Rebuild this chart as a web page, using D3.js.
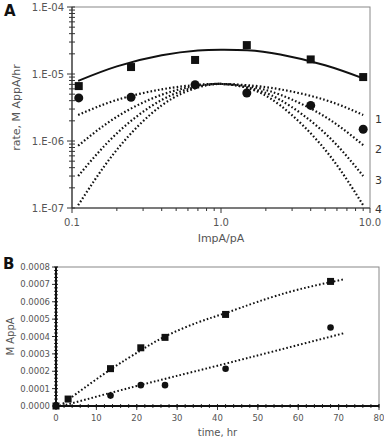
<!DOCTYPE html>
<html>
<head>
<meta charset="utf-8">
<script src="https://cdn.jsdelivr.net/npm/d3@7"></script>
<style>
  body { margin: 0; background: #fff; }
  text { font-family: "DejaVu Sans", sans-serif; }
</style>
</head>
<body>
<svg id="chart" width="384" height="440"></svg>
<script>
// panel A: rate vs ImpA/pA (log-log)
var ratioSquares = [0.111, 0.249, 0.67, 1.49, 4.0, 9.0];
var rateSquares = [6.6e-6, 1.27e-5, 1.62e-5, 2.7e-5, 1.65e-5, 9.0e-6];
var ratioCircles = [0.111, 0.249, 0.67, 1.49, 4.0, 9.0];
var rateCircles = [4.4e-6, 4.5e-6, 6.9e-6, 5.2e-6, 3.4e-6, 1.5e-6];

var curveX = [0.11, 0.2, 0.4, 0.7, 1.0, 1.5, 2.5, 5.0, 9.0];
var solidFit = [7.9e-6, 1.3e-5, 1.9e-5, 2.24e-5, 2.3e-5, 2.26e-5, 1.95e-5, 1.35e-5, 8.6e-6];
var model1 = [2.45e-6, 4.1e-6, 5.9e-6, 6.9e-6, 7.1e-6, 6.8e-6, 5.9e-6, 4.1e-6, 2.45e-6];
var model2 = [8.5e-7, 2.3e-6, 4.9e-6, 6.7e-6, 7.1e-6, 6.6e-6, 4.9e-6, 2.3e-6, 8.7e-7];
var model3 = [3.0e-7, 1.3e-6, 4.1e-6, 6.5e-6, 7.1e-6, 6.3e-6, 4.1e-6, 1.3e-6, 3.0e-7];
var model4 = [1.1e-7, 7.4e-7, 3.4e-6, 6.3e-6, 7.1e-6, 6.2e-6, 3.4e-6, 7.4e-7, 1.1e-7];
var modelLabels = ["1", "2", "3", "4"];
var yTicksA = [1e-7, 1e-6, 1e-5, 1e-4];
var yTickLabelsA = ["1.E-07", "1.E-06", "1.E-05", "1.E-04"];
var xTicksA = [0.1, 1, 10];
var xTickLabelsA = ["0.1", "1.0", "10.0"];

// panel B: M AppA vs time
var timeSquares = [0, 3, 13.5, 21, 27, 42, 68];
var appaSquares = [0, 0.00004, 0.000215, 0.000335, 0.000395, 0.000527, 0.000717];
var timeCircles = [0, 13.5, 21, 27, 42, 68];
var appaCircles = [0, 0.00006, 0.00012, 0.00012, 0.000214, 0.000452];
var fitUpperT = [1, 5, 13.5, 21, 27, 35, 42, 50, 60, 71.5];
var fitUpperY = [0, 0.00007, 0.00021, 0.00032, 0.0004, 0.00048, 0.000535, 0.0006, 0.00067, 0.00073];
var fitLowerT = [1.5, 20, 40, 71.5];
var fitLowerY = [0, 0.000115, 0.000232, 0.00042];
var yTicksB = [0, 0.0001, 0.0002, 0.0003, 0.0004, 0.0005, 0.0006, 0.0007, 0.0008];
var xTicksB = [0, 10, 20, 30, 40, 50, 60, 70, 80];

var svg = d3.select("#chart");
var grey = "#555";

// ---------- panel A ----------
var marginA = { left: 72, right: 370, top: 7, bottom: 208 };
var xA = d3.scaleLog().domain([0.1, 10]).range([marginA.left, marginA.right]);
var yA = d3.scaleLog().domain([1e-7, 1e-4]).range([marginA.bottom, marginA.top]);

var gA = svg.append("g");

// frame
gA.append("rect")
	.attr("x", marginA.left).attr("y", marginA.top)
	.attr("width", marginA.right - marginA.left)
	.attr("height", marginA.bottom - marginA.top)
	.attr("fill", "none").attr("stroke", "#888").attr("stroke-width", 1);

// y minor ticks
var minorY = [];
yTicksA.slice(0, 3).forEach(function (d) {
	for (var k = 2; k <= 9; k++) minorY.push(d * k);
});
gA.selectAll(".ymin").data(minorY).enter().append("line")
	.attr("x1", marginA.left - 3).attr("x2", marginA.left + 3)
	.attr("y1", function (d) { return yA(d); })
	.attr("y2", function (d) { return yA(d); })
	.attr("stroke", "#333");
gA.selectAll(".ymaj").data(yTicksA).enter().append("line")
	.attr("x1", marginA.left - 5).attr("x2", marginA.left + 3)
	.attr("y1", function (d) { return yA(d); })
	.attr("y2", function (d) { return yA(d); })
	.attr("stroke", "#333");
gA.selectAll(".ylab").data(yTicksA).enter().append("text")
	.attr("x", marginA.left - 8)
	.attr("y", function (d) { return yA(d) + 3.5; })
	.attr("text-anchor", "end")
	.attr("font-size", 10).attr("fill", grey)
	.text(function (d, i) { return yTickLabelsA[i]; });

// x minor ticks
var minorX = [];
[0.1, 1].forEach(function (d) {
	for (var k = 2; k <= 9; k++) minorX.push(d * k);
});
gA.selectAll(".xmin").data(minorX).enter().append("line")
	.attr("x1", function (d) { return xA(d); })
	.attr("x2", function (d) { return xA(d); })
	.attr("y1", marginA.bottom).attr("y2", marginA.bottom + 3)
	.attr("stroke", "#333");
gA.selectAll(".xmaj").data(xTicksA).enter().append("line")
	.attr("x1", function (d) { return xA(d); })
	.attr("x2", function (d) { return xA(d); })
	.attr("y1", marginA.bottom).attr("y2", marginA.bottom + 5)
	.attr("stroke", "#333");
gA.selectAll(".xlab").data(xTicksA).enter().append("text")
	.attr("x", function (d) { return xA(d); })
	.attr("y", marginA.bottom + 18)
	.attr("text-anchor", "middle")
	.attr("font-size", 10).attr("fill", grey)
	.text(function (d, i) { return xTickLabelsA[i]; });

// axis lines
gA.append("line")
	.attr("x1", marginA.left).attr("x2", marginA.left)
	.attr("y1", marginA.top).attr("y2", marginA.bottom)
	.attr("stroke", "#333").attr("stroke-width", 1.2);
gA.append("line")
	.attr("x1", marginA.left).attr("x2", marginA.right)
	.attr("y1", marginA.bottom).attr("y2", marginA.bottom)
	.attr("stroke", "#333").attr("stroke-width", 1.2);

gA.append("text")
	.attr("transform", "translate(20," + (marginA.top + marginA.bottom) / 2 + ") rotate(-90)")
	.attr("text-anchor", "middle")
	.attr("font-size", 11).attr("fill", grey)
	.text("rate, M AppA/hr");
gA.append("text")
	.attr("x", xA(1)).attr("y", 242)
	.attr("text-anchor", "middle")
	.attr("font-size", 11).attr("fill", grey)
	.text("ImpA/pA");

var lineA = d3.line()
	.x(function (d) { return xA(d[0]); })
	.y(function (d) { return yA(d[1]); })
	.curve(d3.curveNatural);

[model1, model2, model3, model4].forEach(function (m) {
	gA.append("path")
		.datum(d3.zip(curveX, m))
		.attr("d", lineA)
		.attr("fill", "none").attr("stroke", "#111")
		.attr("stroke-width", 2.2).attr("stroke-dasharray", "1.6,2.2");
});
gA.append("path")
	.datum(d3.zip(curveX, solidFit))
	.attr("d", lineA)
	.attr("fill", "none").attr("stroke", "#111").attr("stroke-width", 2);

gA.selectAll(".msq").data(d3.zip(ratioSquares, rateSquares)).enter().append("rect")
	.attr("x", function (d) { return xA(d[0]) - 4; })
	.attr("y", function (d) { return yA(d[1]) - 4; })
	.attr("width", 8).attr("height", 8).attr("fill", "#111");
gA.selectAll(".mci").data(d3.zip(ratioCircles, rateCircles)).enter().append("circle")
	.attr("cx", function (d) { return xA(d[0]); })
	.attr("cy", function (d) { return yA(d[1]); })
	.attr("r", 4.5).attr("fill", "#111");

var modelEnds = [model1, model2, model3, model4];
gA.selectAll(".mlab").data(modelLabels).enter().append("text")
	.attr("x", marginA.right + 5)
	.attr("y", function (d, i) { return yA(modelEnds[i][modelEnds[i].length - 1]) + 8; })
	.attr("font-size", 11).attr("fill", "#333")
	.text(function (d) { return d; });

svg.append("text").attr("x", 4).attr("y", 16)
	.attr("font-size", 15).attr("font-weight", "bold").attr("fill", "#111")
	.attr("font-family", "Liberation Sans, Arial, sans-serif")
	.text("A");

// ---------- panel B ----------
var marginB = { left: 56, right: 379, top: 267, bottom: 406 };
var xB = d3.scaleLinear().domain([0, 80]).range([marginB.left, marginB.right]);
var yB = d3.scaleLinear().domain([0, 0.0008]).range([marginB.bottom, marginB.top]);
var gB = svg.append("g");

gB.append("rect")
	.attr("x", marginB.left).attr("y", marginB.top)
	.attr("width", marginB.right - marginB.left)
	.attr("height", marginB.bottom - marginB.top)
	.attr("fill", "none").attr("stroke", "#888").attr("stroke-width", 1);

gB.selectAll(".ybmin").data(d3.range(0, 0.00080001, 0.00002)).enter().append("line")
	.attr("x1", marginB.left - 2).attr("x2", marginB.left + 2)
	.attr("y1", function (d) { return yB(d); })
	.attr("y2", function (d) { return yB(d); })
	.attr("stroke", "#333");
gB.selectAll(".ybmaj").data(yTicksB).enter().append("line")
	.attr("x1", marginB.left - 4).attr("x2", marginB.left + 2)
	.attr("y1", function (d) { return yB(d); })
	.attr("y2", function (d) { return yB(d); })
	.attr("stroke", "#333");
gB.selectAll(".yblab").data(yTicksB).enter().append("text")
	.attr("x", marginB.left - 6)
	.attr("y", function (d) { return yB(d) + 3; })
	.attr("text-anchor", "end")
	.attr("font-size", 8.5).attr("fill", grey)
	.text(function (d) { return d3.format(".4f")(d); });

gB.selectAll(".xbmin").data(d3.range(0, 80.01, 2)).enter().append("line")
	.attr("x1", function (d) { return xB(d); })
	.attr("x2", function (d) { return xB(d); })
	.attr("y1", marginB.bottom - 2).attr("y2", marginB.bottom + 2)
	.attr("stroke", "#333");
gB.selectAll(".xbmaj").data(xTicksB).enter().append("line")
	.attr("x1", function (d) { return xB(d); })
	.attr("x2", function (d) { return xB(d); })
	.attr("y1", marginB.bottom - 2).attr("y2", marginB.bottom + 4)
	.attr("stroke", "#333");
gB.selectAll(".xblab").data(xTicksB).enter().append("text")
	.attr("x", function (d) { return xB(d); })
	.attr("y", marginB.bottom + 15)
	.attr("text-anchor", "middle")
	.attr("font-size", 8.5).attr("fill", grey)
	.text(function (d) { return d; });

gB.append("line")
	.attr("x1", marginB.left).attr("x2", marginB.left)
	.attr("y1", marginB.top).attr("y2", marginB.bottom)
	.attr("stroke", "#111").attr("stroke-width", 2);
gB.append("line")
	.attr("x1", marginB.left).attr("x2", marginB.right)
	.attr("y1", marginB.bottom).attr("y2", marginB.bottom)
	.attr("stroke", "#111").attr("stroke-width", 2);

gB.append("text")
	.attr("transform", "translate(14," + (marginB.top + marginB.bottom) / 2 + ") rotate(-90)")
	.attr("text-anchor", "middle")
	.attr("font-size", 10).attr("fill", grey)
	.text("M AppA");
gB.append("text")
	.attr("x", xB(40)).attr("y", 436)
	.attr("text-anchor", "middle")
	.attr("font-size", 10).attr("fill", grey)
	.text("time, hr");

var lineB = d3.line()
	.x(function (d) { return xB(d[0]); })
	.y(function (d) { return yB(d[1]); })
	.curve(d3.curveNatural);

[[fitUpperT, fitUpperY], [fitLowerT, fitLowerY]].forEach(function (f) {
	gB.append("path")
		.datum(d3.zip(f[0], f[1]))
		.attr("d", lineB)
		.attr("fill", "none").attr("stroke", "#111")
		.attr("stroke-width", 2).attr("stroke-dasharray", "1.6,2.2");
});

gB.selectAll(".bsq").data(d3.zip(timeSquares, appaSquares)).enter().append("rect")
	.attr("x", function (d) { return xB(d[0]) - 3.5; })
	.attr("y", function (d) { return yB(d[1]) - 3.5; })
	.attr("width", 7).attr("height", 7).attr("fill", "#111");
gB.selectAll(".bci").data(d3.zip(timeCircles, appaCircles)).enter().append("circle")
	.attr("cx", function (d) { return xB(d[0]); })
	.attr("cy", function (d) { return yB(d[1]); })
	.attr("r", 3.3).attr("fill", "#111");

svg.append("text").attr("x", 3).attr("y", 269)
	.attr("font-size", 15).attr("font-weight", "bold").attr("fill", "#111")
	.attr("font-family", "Liberation Sans, Arial, sans-serif")
	.text("B");
</script>
</body>
</html>
